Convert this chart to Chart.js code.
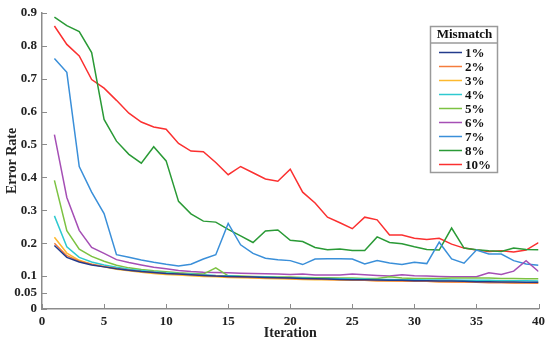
<!DOCTYPE html>
<html>
<head>
<meta charset="utf-8">
<script src="https://cdn.jsdelivr.net/npm/chart.js@4"></script>
<style>
  html, body { margin: 0; padding: 0; background: #fff; }
  #wrap { width: 550px; height: 342px; position: relative; }
</style>
</head>
<body>
<div id="wrap"><canvas id="chart" width="550" height="342"></canvas></div>
<script>
// datos
var iterations = [];
for (var i = 1; i <= 40; i++) iterations.push(i);

var mismatchLabels = ['1%', '2%', '3%', '4%', '5%', '6%', '7%', '8%', '10%'];
var lineColors = ['#233b8c', '#f47c3c', '#fdb92e', '#2ec9d0', '#7cc242', '#a54fb5', '#3a8fd9', '#2a9a36', '#fb3030'];

var err1 = [0.193,0.157,0.143,0.134,0.128,0.122,0.118,0.114,0.111,0.108,0.106,0.104,0.102,0.100,0.099,0.098,0.097,0.096,0.095,0.094,0.093,0.092,0.091,0.090,0.089,0.089,0.088,0.087,0.087,0.086,0.086,0.085,0.085,0.084,0.083,0.083,0.082,0.082,0.081,0.081];
var err2 = [0.200,0.162,0.145,0.136,0.129,0.123,0.118,0.114,0.111,0.108,0.106,0.104,0.102,0.100,0.098,0.097,0.096,0.095,0.094,0.093,0.092,0.091,0.090,0.089,0.088,0.087,0.086,0.086,0.085,0.084,0.084,0.083,0.082,0.082,0.081,0.080,0.080,0.079,0.079,0.078];
var err3 = [0.218,0.170,0.148,0.136,0.128,0.121,0.116,0.112,0.108,0.105,0.103,0.101,0.099,0.098,0.096,0.095,0.094,0.093,0.092,0.091,0.090,0.089,0.089,0.088,0.087,0.087,0.086,0.085,0.085,0.084,0.084,0.083,0.083,0.082,0.082,0.081,0.081,0.080,0.080,0.080];
var err4 = [0.283,0.189,0.157,0.143,0.134,0.127,0.121,0.117,0.113,0.110,0.108,0.106,0.104,0.102,0.101,0.099,0.098,0.097,0.096,0.095,0.094,0.093,0.093,0.092,0.091,0.091,0.090,0.090,0.089,0.089,0.088,0.088,0.088,0.087,0.087,0.087,0.086,0.086,0.086,0.085];
var err5 = [0.391,0.238,0.182,0.160,0.145,0.133,0.125,0.120,0.116,0.113,0.110,0.108,0.106,0.125,0.101,0.100,0.099,0.098,0.097,0.097,0.096,0.095,0.095,0.094,0.094,0.093,0.093,0.098,0.094,0.093,0.093,0.093,0.094,0.094,0.094,0.094,0.093,0.093,0.092,0.092];
var err6 = [0.530,0.339,0.239,0.187,0.169,0.150,0.141,0.134,0.127,0.122,0.117,0.114,0.112,0.111,0.110,0.109,0.108,0.107,0.106,0.105,0.106,0.103,0.103,0.103,0.106,0.104,0.102,0.100,0.104,0.101,0.100,0.099,0.098,0.098,0.098,0.110,0.105,0.115,0.147,0.114];
var err7 = [0.761,0.719,0.433,0.355,0.290,0.165,0.157,0.149,0.142,0.136,0.131,0.136,0.152,0.165,0.260,0.195,0.169,0.154,0.150,0.147,0.135,0.152,0.153,0.153,0.152,0.137,0.147,0.140,0.135,0.142,0.138,0.203,0.152,0.139,0.179,0.167,0.167,0.147,0.137,0.133];
var err8 = [0.887,0.861,0.843,0.779,0.576,0.510,0.470,0.443,0.493,0.450,0.327,0.289,0.267,0.264,0.242,0.222,0.202,0.237,0.240,0.209,0.205,0.187,0.180,0.182,0.178,0.178,0.219,0.202,0.198,0.189,0.181,0.179,0.246,0.185,0.180,0.177,0.175,0.185,0.181,0.180];
var err10 = [0.860,0.804,0.769,0.697,0.671,0.634,0.595,0.568,0.553,0.546,0.503,0.480,0.478,0.445,0.408,0.433,0.414,0.395,0.388,0.425,0.355,0.322,0.279,0.262,0.244,0.279,0.271,0.225,0.225,0.215,0.211,0.215,0.197,0.185,0.179,0.175,0.177,0.173,0.179,0.202];

var yTickValues = [0, 0.05, 0.1, 0.2, 0.3, 0.4, 0.5, 0.6, 0.7, 0.8, 0.9];

var FONT = "'Liberation Serif', 'DejaVu Serif', serif";
var allSeries = [err1, err2, err3, err4, err5, err6, err7, err8, err10];

var datasets = allSeries.map(function (serie, idx) {
    return {
        label: mismatchLabels[idx],
        data: serie.map(function (v, k) { return { x: iterations[k], y: v }; }),
        borderColor: lineColors[idx],
        backgroundColor: lineColors[idx],
        borderWidth: 1.5,
        pointRadius: 0,
        tension: 0,
        fill: false
    };
});

// ticks hacia dentro del area del grafico
var innerTicks = {
    id: 'innerTicks',
    afterDraw: function (chart) {
        var ctx = chart.ctx;
        var xs = chart.scales.x, ys = chart.scales.y;
        ctx.save();
        ctx.strokeStyle = '#8c8c8c';
        ctx.lineWidth = 1;
        xs.ticks.forEach(function (t) {
            var px = Math.round(xs.getPixelForValue(t.value)) + 0.5;
            ctx.beginPath();
            ctx.moveTo(px, ys.bottom);
            ctx.lineTo(px, ys.bottom - 5);
            ctx.stroke();
        });
        ys.ticks.forEach(function (t) {
            var py = Math.round(ys.getPixelForValue(t.value)) + 0.5;
            ctx.beginPath();
            ctx.moveTo(xs.left, py);
            ctx.lineTo(xs.left + 5, py);
            ctx.stroke();
        });
        ctx.restore();
    }
};

// leyenda con recuadro y titulo
var boxLegend = {
    id: 'boxLegend',
    afterDraw: function (chart) {
        var ctx = chart.ctx;
        var left = 430, top = 26, w = 67, h = 146;
        ctx.save();
        ctx.fillStyle = '#fff';
        ctx.fillRect(left, top, w, h);
        ctx.strokeStyle = '#9a9a9a';
        ctx.lineWidth = 1.5;
        ctx.strokeRect(left + 0.5, top + 0.5, w, h);
        ctx.beginPath();
        ctx.moveTo(left, top + 17);
        ctx.lineTo(left + w, top + 17);
        ctx.stroke();
        ctx.fillStyle = '#111';
        ctx.font = 'bold 13px ' + FONT;
        ctx.textAlign = 'center';
        ctx.textBaseline = 'middle';
        ctx.fillText('Mismatch', left + w / 2 + 1, top + 9);
        ctx.textAlign = 'left';
        chart.data.datasets.forEach(function (ds, idx) {
            var y = 52.5 + idx * 14;
            ctx.strokeStyle = ds.borderColor;
            ctx.lineWidth = 1.5;
            ctx.beginPath();
            ctx.moveTo(439, y);
            ctx.lineTo(462, y);
            ctx.stroke();
            ctx.fillStyle = '#111';
            ctx.fillText(ds.label, 465, y + 1);
        });
        ctx.restore();
    }
};

var ctx = document.getElementById('chart').getContext('2d');
var myChart = new Chart(ctx, {
    type: 'line',
    data: { datasets: datasets },
    options: {
        responsive: false,
        animation: false,
        layout: { padding: { left: 0, right: 10, top: 8, bottom: 0 } },
        plugins: {
            legend: { display: false },
            tooltip: { enabled: false }
        },
        scales: {
            x: {
                type: 'linear',
                min: 0,
                max: 40,
                grid: { display: false, drawTicks: false },
                border: { display: true, color: '#8c8c8c', width: 1.5 },
                ticks: {
                    stepSize: 5,
                    color: '#222',
                    padding: 5,
                    maxRotation: 0,
                    font: { family: FONT, size: 13, weight: 'bold' }
                },
                title: {
                    display: true,
                    text: 'Iteration',
                    color: '#222',
                    padding: { top: 0, bottom: 0 },
                    font: { family: FONT, size: 14, weight: 'bold' }
                },
                afterFit: function (scale) { scale.height = 33; }
            },
            y: {
                min: 0,
                max: 0.9,
                grid: { display: false, drawTicks: false },
                border: { display: true, color: '#8c8c8c', width: 1.5 },
                afterBuildTicks: function (scale) {
                    scale.ticks = yTickValues.map(function (v) { return { value: v }; });
                },
                ticks: {
                    autoSkip: false,
                    color: '#222',
                    padding: 5,
                    font: { family: FONT, size: 13, weight: 'bold' },
                    callback: function (v) { return String(+v.toFixed(2)); }
                },
                title: {
                    display: true,
                    text: 'Error Rate',
                    color: '#222',
                    padding: { top: 4, bottom: 0 },
                    font: { family: FONT, size: 14, weight: 'bold' }
                },
                afterFit: function (scale) { scale.width = 42; }
            }
        }
    },
    plugins: [innerTicks, boxLegend]
});
</script>
</body>
</html>
